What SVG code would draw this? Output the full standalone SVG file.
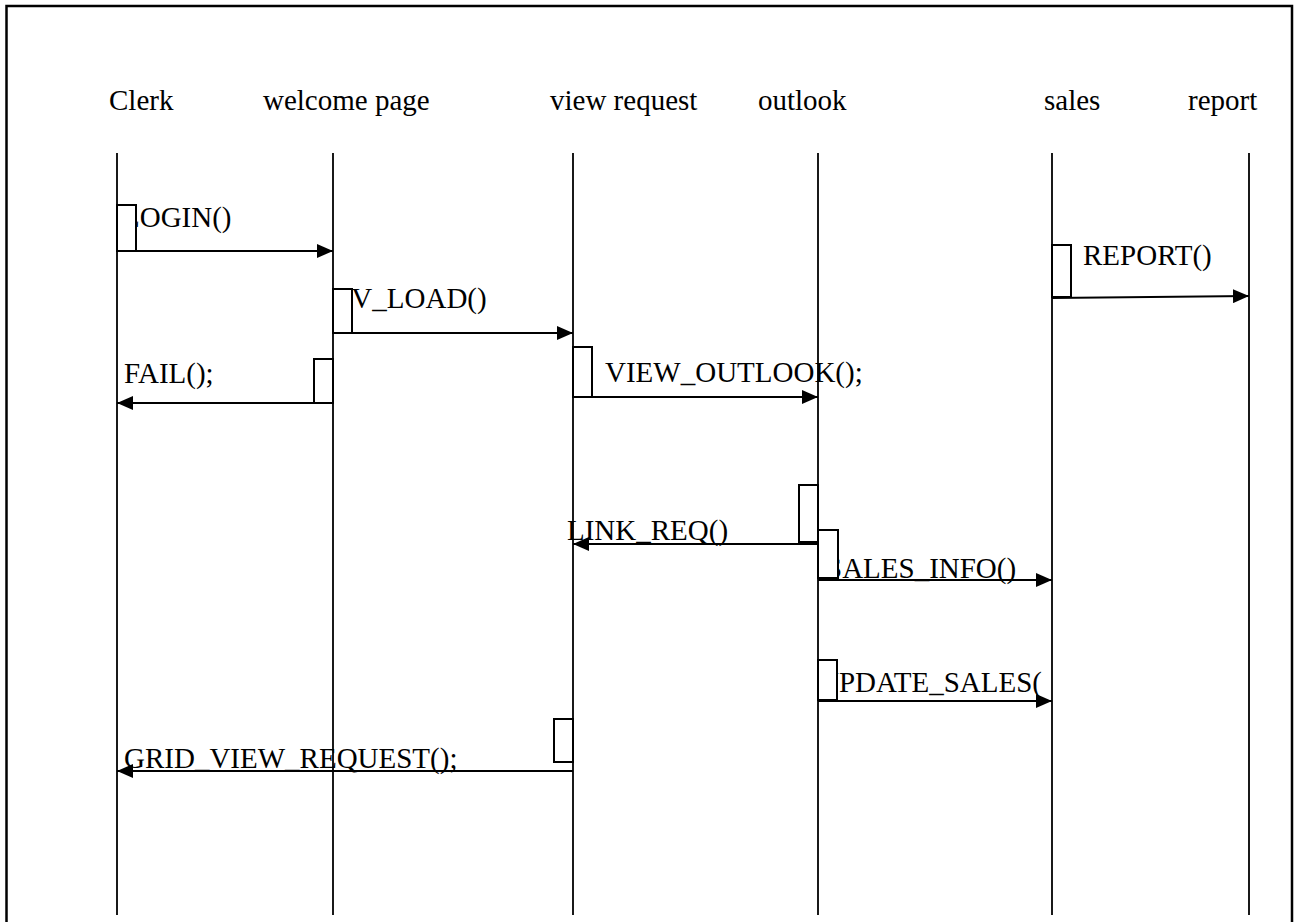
<svg xmlns="http://www.w3.org/2000/svg" width="1299" height="922" viewBox="0 0 1299 922">
  <style>
    text { font-family: "Liberation Serif", Tinos, "Times New Roman", Times, "DejaVu Serif", serif; font-size: 29px; fill: #000; }
    .life { stroke: #000; stroke-width: 1.8; fill: none; }
    .msg { stroke: #000; stroke-width: 2; fill: none; marker-end: url(#arrow); }
    .act { fill: #fff; stroke: #000; stroke-width: 2; }
    .frame { stroke: #000; stroke-width: 2.5; fill: none; }
  </style>
  <defs>
    <marker id="arrow" viewBox="0 0 16 14" refX="16" refY="7" markerWidth="16" markerHeight="14" markerUnits="userSpaceOnUse" orient="auto">
      <path d="M0,0 L16,7 L0,14 z" fill="#000"/>
    </marker>
    <clipPath id="clipUpdate">
      <rect x="800" y="640" width="253" height="80"/>
    </clipPath>
  </defs>
  <rect width="1299" height="922" fill="#fff"/>

  <!-- page frame (open at the bottom) -->
  <path class="frame" d="M6.5,922 V6 H1292 V922"/>

  <!-- participants with their lifelines -->
  <g id="clerk">
    <text x="109" y="110" font-family="Liberation Serif, serif">Clerk</text>
    <line class="life" x1="117" y1="153" x2="117" y2="915"/>
  </g>
  <g id="welcome-page">
    <text x="263" y="110" font-family="Liberation Serif, serif">welcome page</text>
    <line class="life" x1="333" y1="153" x2="333" y2="915"/>
  </g>
  <g id="view-request">
    <text x="550" y="110" font-family="Liberation Serif, serif">view request</text>
    <line class="life" x1="573" y1="153" x2="573" y2="915"/>
  </g>
  <g id="outlook">
    <text x="758" y="110" font-family="Liberation Serif, serif">outlook</text>
    <line class="life" x1="818" y1="153" x2="818" y2="915"/>
  </g>
  <g id="sales">
    <text x="1044" y="110" font-family="Liberation Serif, serif">sales</text>
    <line class="life" x1="1052" y1="153" x2="1052" y2="915"/>
  </g>
  <g id="report">
    <text x="1188" y="110" font-family="Liberation Serif, serif">report</text>
    <line class="life" x1="1249" y1="153" x2="1249" y2="915"/>
  </g>

  <!-- messages -->
  <g id="connectors">
    <line class="msg" x1="117" y1="251" x2="333" y2="251"/>
    <line class="msg" x1="333" y1="333" x2="573" y2="333"/>
    <line class="msg" x1="333" y1="403" x2="117" y2="403"/>
    <line class="msg" x1="573" y1="397" x2="818" y2="397"/>
    <line class="msg" x1="1052" y1="298" x2="1249" y2="296"/>
    <line class="msg" x1="818" y1="544" x2="573" y2="544"/>
    <line class="msg" x1="818" y1="580" x2="1052" y2="580"/>
    <line class="msg" x1="818" y1="701" x2="1052" y2="701"/>
    <line class="msg" x1="573" y1="771" x2="117" y2="771"/>
  </g>

  <!-- message labels -->
  <g id="labels">
    <text x="122" y="227">LOGIN()</text>
    <text x="332" y="308">CV_LOAD()</text>
    <text x="124" y="383">FAIL();</text>
    <text x="605" y="382">VIEW_OUTLOOK();</text>
    <text x="1083" y="265">REPORT()</text>
    <text x="567" y="540">LINK_REQ()</text>
    <text x="826" y="578">SALES_INFO()</text>
    <text x="818" y="692" clip-path="url(#clipUpdate)">UPDATE_SALES(</text>
    <text x="124" y="768">GRID_VIEW_REQUEST();</text>
  </g>

  <!-- activation bars -->
  <g id="activations">
    <rect class="act" x="117" y="205" width="19" height="46"/>
    <rect class="act" x="333" y="289" width="19" height="44"/>
    <rect class="act" x="314" y="359" width="19" height="44"/>
    <rect class="act" x="573" y="347" width="19" height="50"/>
    <rect class="act" x="1052" y="245" width="19" height="52"/>
    <rect class="act" x="799" y="485" width="19" height="57"/>
    <rect class="act" x="818" y="530" width="20" height="48"/>
    <rect class="act" x="818" y="660" width="19" height="40"/>
    <rect class="act" x="554" y="719" width="19" height="43"/>
  </g>
</svg>
